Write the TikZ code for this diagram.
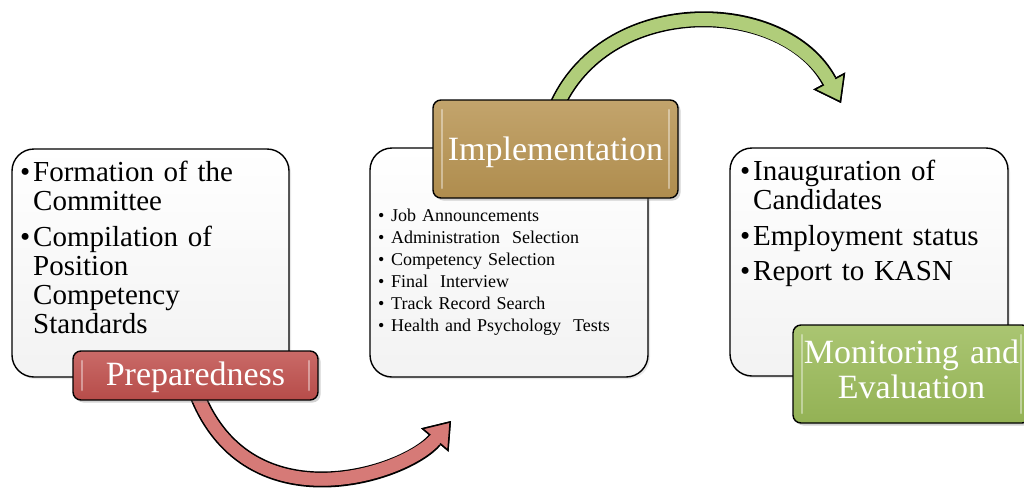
\documentclass[tikz,border=0pt]{standalone}
\usepackage{fontspec}
\setmainfont{Liberation Serif}
\usetikzlibrary{arrows.meta,shadows}
\pgfdeclarelayer{background}
\pgfsetlayers{background,main}
\definecolor{prepred}{RGB}{192,80,77}
\definecolor{impgold}{RGB}{184,148,82}
\definecolor{mongreen}{RGB}{155,187,89}
\definecolor{redarr}{RGB}{214,122,119}
\definecolor{greenarr}{RGB}{176,205,122}
\newcommand\bl[1]{\noindent\makebox[13pt][l]{•}#1}
\newcommand\cl[1]{\noindent\hspace*{13pt}#1}
\tikzset{
  box/.style={draw=black, line width=1.4pt, rounded corners=22pt, top color=white, bottom color=black!5,
    inner sep=0pt, drop shadow={opacity=0.18, shadow xshift=2pt, shadow yshift=-2pt}},
  glint/.style={path picture={
    \draw[white, opacity=0.4, line width=2.5pt, line cap=round]
      ([xshift=9pt,yshift=-10pt]path picture bounding box.north west) -- ([xshift=9pt,yshift=10pt]path picture bounding box.south west)
      ([xshift=-9pt,yshift=-10pt]path picture bounding box.north east) -- ([xshift=-9pt,yshift=10pt]path picture bounding box.south east);
  }},
  stagebox/.style={draw=black, line width=1.4pt, rounded corners=8pt, inner sep=0pt, text=white,
    font=\fontsize{34}{35}\selectfont, drop shadow={opacity=0.35, shadow xshift=2.5pt, shadow yshift=-2.5pt}, glint},
  listtext/.style={anchor=base west, inner sep=0pt, text width=265pt, align=left},
  shaftout/.style={line width=16pt, black, -{Triangle[length=25pt,width=36pt,line width=0pt]}},
  shaftin/.style={line width=12.5pt, draw=#1, -{Triangle[length=25pt,width=36pt,fill=#1,color=black,line width=1.5pt]}},
  shaftfix/.style={line width=12.5pt, draw=#1, shorten >=21pt},
}
\begin{document}
\begin{tikzpicture}[x=1pt,y=-1pt]
\useasboundingbox (0,0) rectangle (1024,488);
% content boxes
\node[box, minimum width=277pt, minimum height=228pt] (b1) at (150.5,263) {};
\node[box, minimum width=278pt, minimum height=229pt] (b2) at (509,262.5) {};
\node[box, minimum width=278pt, minimum height=228pt] (b3) at (869,262) {};
% texts
\node[listtext, font=\fontsize{29}{29}\selectfont] (t1) at (20,181)
  {\bl{Formation of the}\par\cl{Committee}\par\vspace{7pt}\bl{Compilation of}\par\cl{Position}\par\cl{Competency}\par\cl{Standards}};
\node[listtext, font=\fontsize{18}{22}\selectfont] (t2) at (378,221)
  {\bl{Job Announcements}\par\bl{Administration\ \ Selection}\par\bl{Competency Selection}\par\bl{Final\ \ Interview}\par\bl{Track Record Search}\par\bl{Health and Psychology\ \ Tests}};
\node[listtext, font=\fontsize{29}{29}\selectfont] (t3) at (740,180)
  {\bl{Inauguration of}\par\cl{Candidates}\par\vspace{7pt}\bl{Employment status}\par\vspace{6pt}\bl{Report to KASN}};
% stage labels
\node[stagebox, top color=prepred!85!white, bottom color=prepred!95!black, minimum width=245pt, minimum height=49pt, text depth=4pt] (prep) at (195.5,375.5) {Preparedness};
\node[stagebox, top color=impgold!85!white, bottom color=impgold!95!black, minimum width=245pt, minimum height=98pt, text depth=1pt] (impl) at (555.5,149) {Implementation};
\node[stagebox, top color=mongreen!85!white, bottom color=mongreen!95!black, text width=237pt, align=center, minimum height=98pt, text depth=45pt] (mon) at (911.5,374) {Monitoring and\\Evaluation};
% arrows
\begin{pgfonlayer}{background}
\fill[white] (0,0) rectangle (1024,488);
\coordinate (redtip) at (451,421);
\coordinate (greentip) at (841,103);
\draw[shaftout] ([xshift=2pt,yshift=5pt]prep.south) .. controls (250,525) and (405,475) .. (redtip);
\draw[shaftin=redarr] ([xshift=2pt,yshift=5pt]prep.south) .. controls (250,525) and (405,475) .. (redtip);
\draw[shaftfix=redarr] ([xshift=2pt,yshift=5pt]prep.south) .. controls (250,525) and (405,475) .. (redtip);
\draw[shaftout] ([xshift=2pt,yshift=-5pt]impl.north) .. controls (610,-8) and (785,-2) .. (greentip);
\draw[shaftin=greenarr] ([xshift=2pt,yshift=-5pt]impl.north) .. controls (610,-8) and (785,-2) .. (greentip);
\draw[shaftfix=greenarr] ([xshift=2pt,yshift=-5pt]impl.north) .. controls (610,-8) and (785,-2) .. (greentip);
\end{pgfonlayer}
\end{tikzpicture}
\end{document}
